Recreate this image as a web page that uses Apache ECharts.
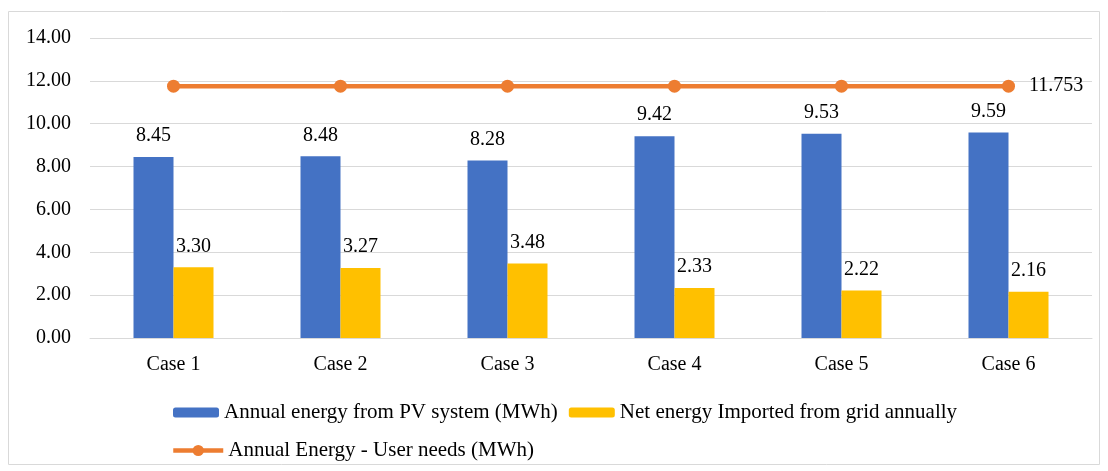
<!DOCTYPE html>
<html>
<head>
<meta charset="utf-8">
<script src="https://cdn.jsdelivr.net/npm/echarts@6/dist/echarts.min.js"></script>
<style>
  html, body { margin: 0; padding: 0; background: #fff; }
  #chart { width: 1108px; height: 471px; }
</style>
</head>
<body>
<div id="chart"></div>
<script>
const categories = ['Case 1', 'Case 2', 'Case 3', 'Case 4', 'Case 5', 'Case 6'];
const pvEnergy = [8.45, 8.48, 8.28, 9.42, 9.53, 9.59];
const gridImport = [3.30, 3.27, 3.48, 2.33, 2.22, 2.16];
const userNeeds = [11.753, 11.753, 11.753, 11.753, 11.753, 11.753];
const yTicks = { min: 0, max: 14, interval: 2 };

const FONT = '"Liberation Serif", "Times New Roman", serif';
const FS = 20;
const LEGEND_FS = 21;
const chart = echarts.init(document.getElementById('chart'));

chart.setOption({
  animation: false,
  textStyle: { fontFamily: FONT, color: '#000' },
  graphic: [{
    type: 'rect',
    shape: { x: 8.5, y: 11.5, width: 1091, height: 453 },
    style: { fill: 'none', stroke: '#d9d9d9', lineWidth: 1 },
    z: -1
  }],
  grid: { left: 90, right: 16, top: 38, bottom: 133 },
  legend: [
    {
      data: ['Annual energy from PV system (MWh)', 'Net energy Imported from grid annually'],
      left: 168, top: 397, itemWidth: 46, itemHeight: 10, itemGap: 11,
      textStyle: { fontFamily: FONT, fontSize: LEGEND_FS, color: '#000' }
    },
    {
      data: ['Annual Energy - User needs (MWh)'],
      left: 166, top: 435, itemWidth: 50, itemHeight: 14,
      lineStyle: { width: 4.5 },
      textStyle: { fontFamily: FONT, fontSize: LEGEND_FS, color: '#000' }
    }
  ],
  xAxis: {
    type: 'category',
    data: categories,
    axisLine: { lineStyle: { color: '#d9d9d9' } },
    axisTick: { show: false },
    axisLabel: { fontFamily: FONT, fontSize: FS, color: '#000', margin: 17 }
  },
  yAxis: {
    type: 'value',
    min: yTicks.min, max: yTicks.max, interval: yTicks.interval,
    axisLine: { show: false },
    axisTick: { show: false },
    splitLine: { lineStyle: { color: '#d9d9d9', width: 1 } },
    axisLabel: {
      fontFamily: FONT, fontSize: FS, color: '#000', margin: 19,
      formatter: v => v.toFixed(2)
    }
  },
  series: [
    {
      name: 'Annual energy from PV system (MWh)',
      type: 'bar',
      data: pvEnergy,
      barWidth: 40,
      barGap: '0%',
      itemStyle: { color: '#4472C4' },
      label: {
        show: true, position: 'top', distance: 11,
        fontFamily: FONT, fontSize: FS, color: '#000',
        formatter: p => p.value.toFixed(2)
      }
    },
    {
      name: 'Net energy Imported from grid annually',
      type: 'bar',
      data: gridImport,
      barWidth: 40,
      barGap: '0%',
      itemStyle: { color: '#FFC000' },
      label: {
        show: true, position: 'top', distance: 11,
        fontFamily: FONT, fontSize: FS, color: '#000',
        formatter: p => p.value.toFixed(2)
      }
    },
    {
      name: 'Annual Energy - User needs (MWh)',
      type: 'line',
      data: userNeeds,
      symbol: 'circle',
      symbolSize: 13,
      lineStyle: { color: '#ED7D31', width: 4.5 },
      itemStyle: { color: '#ED7D31' },
      label: {
        show: true, position: 'right', distance: 14,
        fontFamily: FONT, fontSize: FS, color: '#000',
        formatter: p => p.dataIndex === userNeeds.length - 1 ? String(p.value) : ''
      }
    }
  ]
});
</script>
</body>
</html>
